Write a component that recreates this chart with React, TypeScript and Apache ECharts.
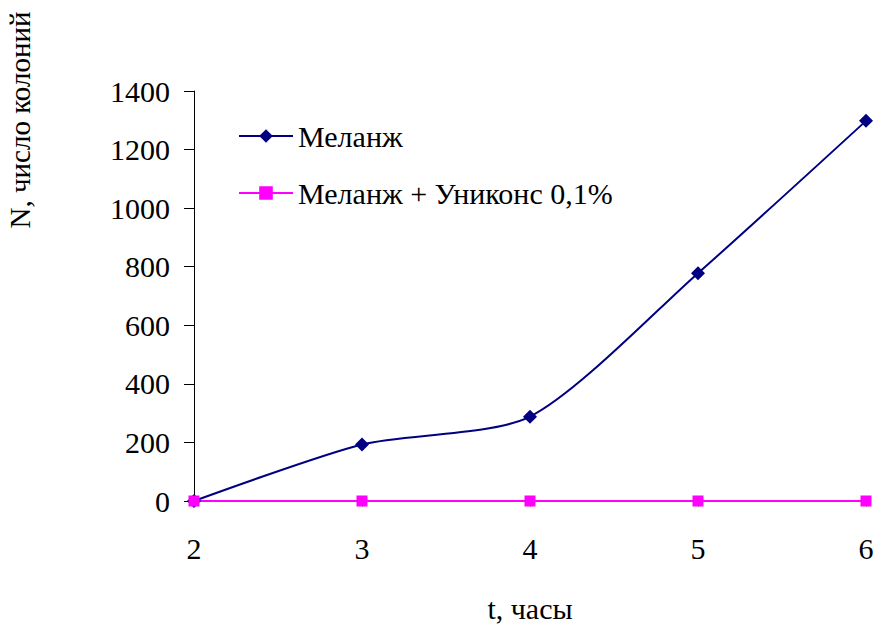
import React, { useEffect, useRef } from "react";
import * as echarts from "echarts";

const hours = [2, 3, 4, 5, 6];
const melange = [0, 193, 288, 778, 1298];
const melangeUnicons = [0, 0, 0, 0, 0];
const seriesNames = ["Меланж", "Меланж + Униконс 0,1%"];

const FONT = "'Liberation Serif', 'Times New Roman', serif";

export default function App() {
  const ref = useRef<HTMLDivElement>(null);
  useEffect(() => {
    if (!ref.current) return;
    const chart = echarts.init(ref.current, undefined, { renderer: "svg" });
    chart.setOption({
      animation: false,
      backgroundColor: "#ffffff",
      grid: {
        left: 194,
        right: 8,
        top: 91,
        bottom: 124,
        containLabel: false,
        outerBoundsMode: "none",
      },
      legend: {
        orient: "vertical",
        left: 238,
        top: 121,
        padding: 0,
        itemWidth: 54,
        itemHeight: 17,
        itemGap: 27,
        textStyle: { fontFamily: FONT, fontSize: 30, color: "#000" },
        data: seriesNames,
      },
      xAxis: {
        type: "value",
        min: 2,
        max: 6,
        interval: 1,
        axisLine: { show: true, onZero: false, lineStyle: { color: "#808080", width: 1 } },
        axisTick: { show: true, length: 6, lineStyle: { color: "#808080" } },
        axisLabel: { fontFamily: FONT, fontSize: 30, color: "#000", margin: 32 },
        splitLine: { show: false },
      },
      yAxis: {
        type: "value",
        min: 0,
        max: 1400,
        interval: 200,
        axisLine: { show: true, lineStyle: { color: "#000", width: 1 } },
        axisTick: { show: true, length: 10, inside: false, lineStyle: { color: "#000" } },
        axisLabel: {
          fontFamily: FONT,
          fontSize: 30,
          color: "#000",
          margin: 24,
          formatter: (v: number) => String(v),
        },
        splitLine: { show: false },
      },
      graphic: [
        {
          type: "text",
          x: 20,
          y: 120,
          rotation: Math.PI / 2,
          style: {
            text: "N, число колоний",
            font: `29px ${FONT}`,
            fill: "#000",
            align: "center",
            verticalAlign: "middle",
          },
        },
        {
          type: "text",
          x: 530,
          y: 608,
          style: {
            text: "t, часы",
            font: `30px ${FONT}`,
            fill: "#000",
            align: "center",
            verticalAlign: "middle",
          },
        },
      ],
      series: [
        {
          name: seriesNames[0],
          type: "line",
          smooth: 0.25,
          data: hours.map((h, i) => [h, melange[i]]),
          symbol: "diamond",
          symbolSize: 14,
          lineStyle: { color: "#000080", width: 2 },
          itemStyle: { color: "#000080" },
        },
        {
          name: seriesNames[1],
          type: "line",
          data: hours.map((h, i) => [h, melangeUnicons[i]]),
          symbol: "rect",
          symbolSize: 11,
          lineStyle: { color: "#ff00ff", width: 2 },
          itemStyle: { color: "#ff00ff" },
        },
      ],
    });
    return () => chart.dispose();
  }, []);
  return (
    <div
      ref={ref}
      style={{ position: "absolute", left: 0, top: 0, width: 874, height: 625 }}
    />
  );
}
